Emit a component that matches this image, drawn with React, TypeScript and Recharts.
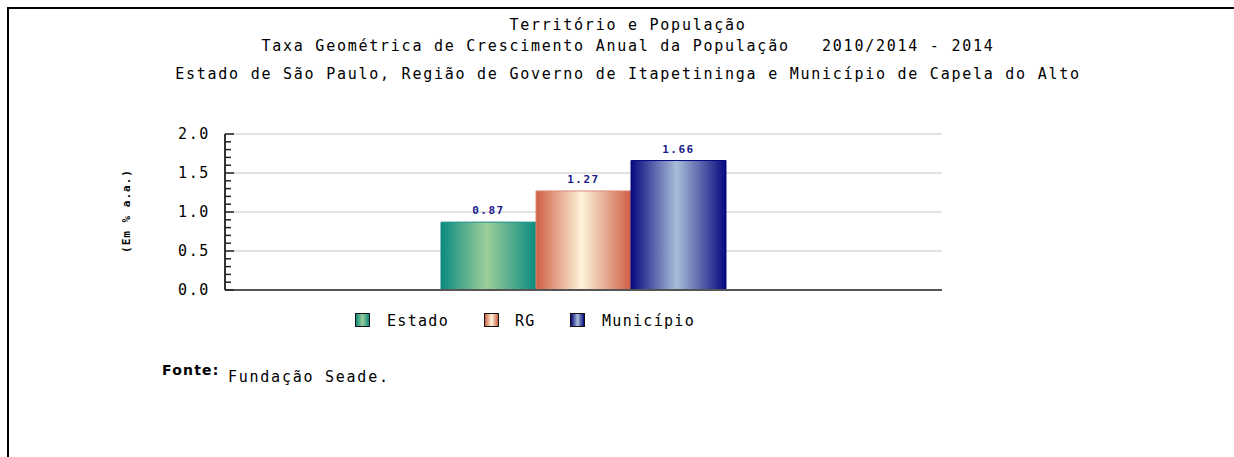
import {
    BarChart, Bar, XAxis, YAxis, CartesianGrid, ReferenceLine, LabelList
} from "recharts"

const titles = [
    "Território e População",
    "Taxa Geométrica de Crescimento Anual da População   2010/2014 - 2014",
    "Estado de São Paulo, Região de Governo de Itapetininga e Município de Capela do Alto",
]
const categories = ["2014"]
const seriesNames = ["Estado", "RG", "Município"]
const estado = [0.87]
const rg = [1.27]
const municipio = [1.66]
const yTicks = [0, 0.1, 0.2, 0.3, 0.4, 0.5, 0.6, 0.7, 0.8, 0.9, 1.0,
    1.1, 1.2, 1.3, 1.4, 1.5, 1.6, 1.7, 1.8, 1.9, 2.0]
const gridValues = [0.5, 1.0, 1.5, 2.0]

const data = categories.map((c, i) => ({
    name: c, estado: estado[i], rg: rg[i], municipio: municipio[i],
}))

const mono = "'DejaVu Sans Mono', monospace"

const grads = [
    { id: "gEstado", key: "estado", edge: "#0b8a80", mid: "#9dcf9b", stroke: "#0f8a80" },
    { id: "gRg", key: "rg", edge: "#cf5f46", mid: "#fdf3d9", stroke: "#d88a78" },
    { id: "gMun", key: "municipio", edge: "#08087e", mid: "#a9bdd8", stroke: "#0a0a80" },
]

// legend item placement: [box left, text left]
const legendPos = [[355, 387], [484, 515], [570, 602]]

function YTick(props: any) {
    const { x, y, payload } = props
    const v = Math.round(payload.value * 10)
    const major = v % 5 === 0
    return (
        <g>
            <line x1={x} x2={x + (major ? 9 : 6)} y1={y} y2={y}
                stroke="#222" strokeWidth={1.5} />
            {major && (
                <text x={x - 15} y={y} textAnchor="end" dominantBaseline="central"
                    fontFamily={mono} fontSize={15} letterSpacing={1.6} fill="#000">
                    {payload.value.toFixed(1)}
                </text>
            )}
        </g>
    )
}

function EndTick(props: any) {
    const { x, y } = props
    return <line x1={x} x2={x} y1={y} y2={y - 6} stroke="#333" strokeWidth={2} />
}

function LegendBox() {
    return (
        <>
            {grads.map((g, i) => (
                <div key={g.id}>
                    <div style={{
                        position: "absolute", left: legendPos[i][0], top: 313,
                        width: 13, height: 12,
                        background: `linear-gradient(to right, ${g.edge}, ${g.mid}, ${g.edge})`,
                        border: "1.5px solid #111",
                    }} />
                    <div style={{
                        position: "absolute", left: legendPos[i][1], top: 311,
                        fontFamily: mono, fontSize: 15, letterSpacing: 1.3, lineHeight: "20px",
                    }}>{seriesNames[i]}</div>
                </div>
            ))}
        </>
    )
}

export default function App() {
    return (
        <div style={{ position: "absolute", left: 0, top: 0, width: 1234, height: 457, background: "#fff", overflow: "hidden" }}>
            <div style={{ position: "absolute", left: 7, top: 7, width: 1227, height: 2, background: "#000" }} />
            <div style={{ position: "absolute", left: 7, top: 7, width: 2, height: 450, background: "#000" }} />
            <svg width={1234} height={100} style={{ position: "absolute", left: 0, top: 0 }}>
                {titles.map((t, i) => (
                    <text key={i} x={628} y={[25, 46, 74][i]} textAnchor="middle"
                        dominantBaseline="central" fontFamily={mono} fontSize={15}
                        letterSpacing={1.75} style={{ whiteSpace: "pre" }} fill="#000">
                        {t}
                    </text>
                ))}
            </svg>
            <div style={{ position: "absolute", left: 0, top: 0 }}>
                <BarChart width={1234} height={457} data={data}
                    margin={{ top: 134, right: 292, left: 165, bottom: 167 }}
                    barGap={0} barCategoryGap={0}>
                    <defs>
                        {grads.map(g => (
                            <linearGradient key={g.id} id={g.id} x1="0" y1="0" x2="1" y2="0">
                                <stop offset="0%" stopColor={g.edge} />
                                <stop offset="48%" stopColor={g.mid} />
                                <stop offset="100%" stopColor={g.edge} />
                            </linearGradient>
                        ))}
                    </defs>
                    <CartesianGrid vertical={false} horizontalValues={gridValues}
                        stroke="#e2e2e2" strokeWidth={2} />
                    <XAxis dataKey="name" hide />
                    <YAxis width={60} domain={[0, 2]} ticks={yTicks} interval={0}
                        tickSize={0} tickMargin={0} tickLine={false}
                        axisLine={{ stroke: "#333", strokeWidth: 2 }}
                        tick={<YTick />} />
                    <YAxis yAxisId="r" orientation="right" width={0} domain={[0, 2]}
                        ticks={[0]} tickSize={0} tickMargin={0} tickLine={false}
                        axisLine={false} tick={<EndTick />} />
                    <ReferenceLine y={0} stroke="#555" strokeWidth={2} />
                    {grads.map((g, i) => (
                        <Bar key={g.key} dataKey={g.key} name={seriesNames[i]} barSize={95}
                            fill={`url(#${g.id})`} stroke={g.stroke} strokeWidth={1}
                            isAnimationActive={false}>
                            <LabelList dataKey={g.key} position="top" offset={8}
                                fill="#1a1a8c" fontFamily={mono} fontSize={11}
                                fontWeight="bold" letterSpacing={1.5}
                                formatter={(v: any) => Number(v).toFixed(2)} />
                        </Bar>
                    ))}
                </BarChart>
            </div>
            <LegendBox />
            <svg width={300} height={40} style={{ position: "absolute", left: 0, top: 0, overflow: "visible" }}>
                <text x={126} y={211} transform="rotate(-90 126 211)" textAnchor="middle"
                    dominantBaseline="central" fontFamily={mono} fontSize={11}
                    fontWeight="bold" letterSpacing={1} fill="#000">
                    (Em % a.a.)
                </text>
            </svg>
            <div style={{ position: "absolute", left: 162, top: 361, fontFamily: "'DejaVu Sans', sans-serif", fontSize: 14, fontWeight: "bold", letterSpacing: 1.2, lineHeight: "18px" }}>
                Fonte:
            </div>
            <div style={{ position: "absolute", left: 228, top: 367, fontFamily: mono, fontSize: 15, letterSpacing: 1.75, lineHeight: "20px" }}>
                Fundação Seade.
            </div>
        </div>
    )
}
